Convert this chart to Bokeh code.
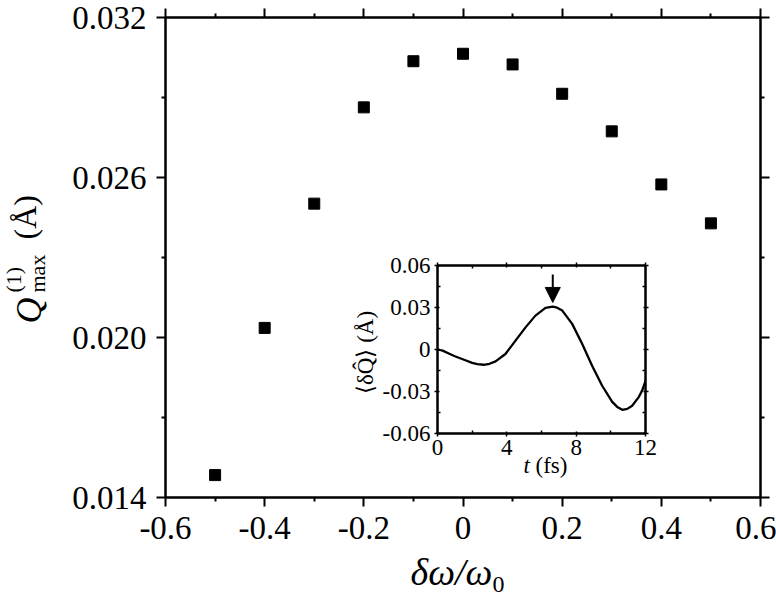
import numpy as np
from bokeh.plotting import figure
from bokeh.models import (Range1d, LinearAxis, FixedTicker, Label, Arrow,
                          NormalHead, CustomJSTickFormatter)
from bokeh.embed import file_html
from bokeh.resources import INLINE

# ---------------- data ----------------
detuning = [-0.5, -0.4, -0.3, -0.2, -0.1, 0.0, 0.1, 0.2, 0.3, 0.4, 0.5]
q_max = [0.01484, 0.02036, 0.02502, 0.02863, 0.03036, 0.03064,
         0.03024, 0.02914, 0.02773, 0.02574, 0.02428]

x_major = [-0.6, -0.4, -0.2, 0.0, 0.2, 0.4, 0.6]
x_minor = [-0.5, -0.3, -0.1, 0.1, 0.3, 0.5]
x_labels = ["-0.6", "-0.4", "-0.2", "0", "0.2", "0.4", "0.6"]
y_major = [0.014, 0.020, 0.026, 0.032]
y_minor = [0.017, 0.023, 0.029]
y_labels = ["0.014", "0.020", "0.026", "0.032"]

# inset: <dQ>(t)
t_fs = [0.0, 0.3, 0.65, 1.0, 1.42, 2.0, 2.3, 2.67, 3.0, 3.35, 3.92, 4.5,
        5.08, 5.65, 6.23, 6.65, 6.9, 7.2, 7.77, 8.35, 8.92, 9.5, 10.08,
        10.37, 10.66, 10.95, 11.23, 11.62, 11.81, 12.0]
dq = [0.0, -0.0008, -0.0028, -0.0048, -0.0068, -0.0095, -0.0104, -0.0109,
      -0.0102, -0.0085, -0.0032, 0.0063, 0.0158, 0.0242, 0.0297, 0.0306,
      0.0299, 0.0278, 0.0183, 0.0039, -0.0116, -0.0259, -0.0374, -0.0410,
      -0.0431, -0.0424, -0.0402, -0.0338, -0.0292, -0.0225]
t_major = [0, 4, 8, 12]
t_minor = [2, 6, 10]
t_labels = ["0", "4", "8", "12"]
dq_major = [-0.06, -0.03, 0.0, 0.03, 0.06]
dq_minor = [-0.045, -0.015, 0.015, 0.045]
dq_labels = ["-0.06", "-0.03", "0", "0.03", "0.06"]

FONT = "Liberation Serif"
PAGE_W, PAGE_H = 776, 598


def absolute(fig, left, top):
    fig.styles = {"position": "absolute", "left": f"{left}px",
                  "top": f"{top}px"}


def style_axis(ax, ticks, minors, labels, size, standoff,
               tick_out, tick_in, minor_out, minor_in, tick_w):
    ax.ticker = FixedTicker(ticks=ticks, minor_ticks=minors)
    ax.axis_line_width = 2
    ax.axis_line_color = "black"
    ax.major_tick_line_color = "black"
    ax.minor_tick_line_color = "black"
    ax.major_tick_line_width = tick_w
    ax.minor_tick_line_width = tick_w
    ax.major_tick_out = tick_out
    ax.major_tick_in = tick_in
    ax.minor_tick_out = minor_out
    ax.minor_tick_in = minor_in
    ax.major_label_text_font = FONT
    ax.major_label_text_color = "black"
    if labels is None:
        ax.formatter = CustomJSTickFormatter(code="return ''")
        ax.major_label_standoff = 0
        ax.major_label_text_font_size = "0px"
    else:
        ax.major_label_overrides = {t: l for t, l in zip(ticks, labels)}
        ax.major_label_text_font_size = size
        ax.major_label_standoff = standoff
    return ax


# ---------------- main figure ----------------
BL, BR, BT, BB = 165, 16, 17, 101
p = figure(width=PAGE_W, height=PAGE_H, x_range=Range1d(-0.6, 0.6),
           y_range=Range1d(0.014, 0.032), output_backend="svg",
           toolbar_location=None, x_axis_location=None, y_axis_location=None,
           min_border_left=BL, min_border_right=BR, min_border_top=BT,
           min_border_bottom=BB)
p.xgrid.visible = False
p.ygrid.visible = False
p.outline_line_color = "black"
p.outline_line_width = 2
p.background_fill_color = "white"
p.border_fill_color = "white"


def main_axis(ticks, minors, labels=None, standoff=10):
    return style_axis(LinearAxis(), ticks, minors, labels, "33px", standoff,
                      9, 0, 4, 0, 2)


p.add_layout(main_axis(x_major, x_minor, x_labels, standoff=10), "below")
p.add_layout(main_axis(y_major, y_minor, y_labels, standoff=10), "left")
p.add_layout(main_axis(x_major, x_minor), "above")
p.add_layout(main_axis(y_major, y_minor), "right")

p.scatter(detuning, q_max, marker="square", size=11, color="black")
absolute(p, 0, 0)

# ---------------- inset ----------------
IL, IR, IT, IB = 85, 22, 20, 50
IFW, IFH = 208, 168
INS_X, INS_Y = 352, 245
IW, IH = IL + IFW + IR, IT + IFH + IB
q = figure(width=IW, height=IH, x_range=Range1d(0, 12),
           y_range=Range1d(-0.06, 0.06), output_backend="svg",
           toolbar_location=None, x_axis_location=None, y_axis_location=None,
           min_border_left=IL, min_border_right=IR, min_border_top=IT,
           min_border_bottom=IB)
q.xgrid.visible = False
q.ygrid.visible = False
q.outline_line_color = "black"
q.outline_line_width = 2
q.background_fill_color = "white"
q.border_fill_alpha = 0.0


def inset_axis(ticks, minors, labels=None, standoff=3):
    return style_axis(LinearAxis(), ticks, minors, labels, "23px", standoff,
                      3, 2, 0, 3, 1.5)


q.add_layout(inset_axis(t_major, t_minor, t_labels, standoff=3), "below")
q.add_layout(inset_axis(dq_major, dq_minor, dq_labels, standoff=4), "left")
q.add_layout(inset_axis(t_major, t_minor), "above")
q.add_layout(inset_axis(dq_major, dq_minor), "right")

q.line(t_fs, dq, line_width=2.3, color="black", line_join="round")

# arrow marking the maximum of the inset curve
i_pk = int(np.argmax(dq))
q.add_layout(Arrow(end=NormalHead(size=15, fill_color="black",
                                  line_color="black"),
                   x_start=t_fs[i_pk], y_start=dq[i_pk] + 0.023,
                   x_end=t_fs[i_pk], y_end=dq[i_pk] + 0.003,
                   line_width=2, line_color="black"))
absolute(q, INS_X, INS_Y)

# ---------------- text layer (axis titles) ----------------
ov = figure(width=PAGE_W, height=PAGE_H, x_range=Range1d(0, PAGE_W),
            y_range=Range1d(PAGE_H, 0), output_backend="svg",
            toolbar_location=None, x_axis_location=None,
            y_axis_location=None, min_border=0)
ov.min_border_left = ov.min_border_right = 0
ov.min_border_top = ov.min_border_bottom = 0
ov.xgrid.visible = False
ov.ygrid.visible = False
ov.outline_line_color = None
ov.background_fill_alpha = 0.0
ov.border_fill_alpha = 0.0

SHIFT = 0.38  # anchor-to-baseline correction, in em


def lab(x, y, text, size, style="normal", angle=0.0, align="left"):
    s = SHIFT * size
    if angle:
        x = x - s
    else:
        y = y - s
    ov.add_layout(Label(x=x, y=y, text=text, text_font=FONT,
                        text_font_size=f"{size}px", text_font_style=style,
                        angle=angle, text_align=align,
                        text_baseline="alphabetic", text_color="black"))


rot = np.pi / 2
# main y title  Q^(1)_max (Å)   (x = baseline, y = start of text)
lab(42, 323, "Q", 36, "italic", rot)
lab(21, 292, "(1)", 22, "normal", rot)
lab(45, 292, "max", 22, "normal", rot)
lab(37, 239, "(Å)", 32, "normal", rot)
# main x title  δω/ω0
lab(410, 586, "δω/ω", 38, "italic")
lab(492, 593, "0", 24, "normal")
# inset titles
lab(374, 352, "⟨δQ̂⟩ (Å)", 23, "normal", rot, "center")
lab(523, 474, "t", 23, "italic")
lab(535, 474, "(fs)", 23, "normal")
absolute(ov, 0, 0)

open("out.html", "w").write(file_html([p, q, ov], INLINE))
